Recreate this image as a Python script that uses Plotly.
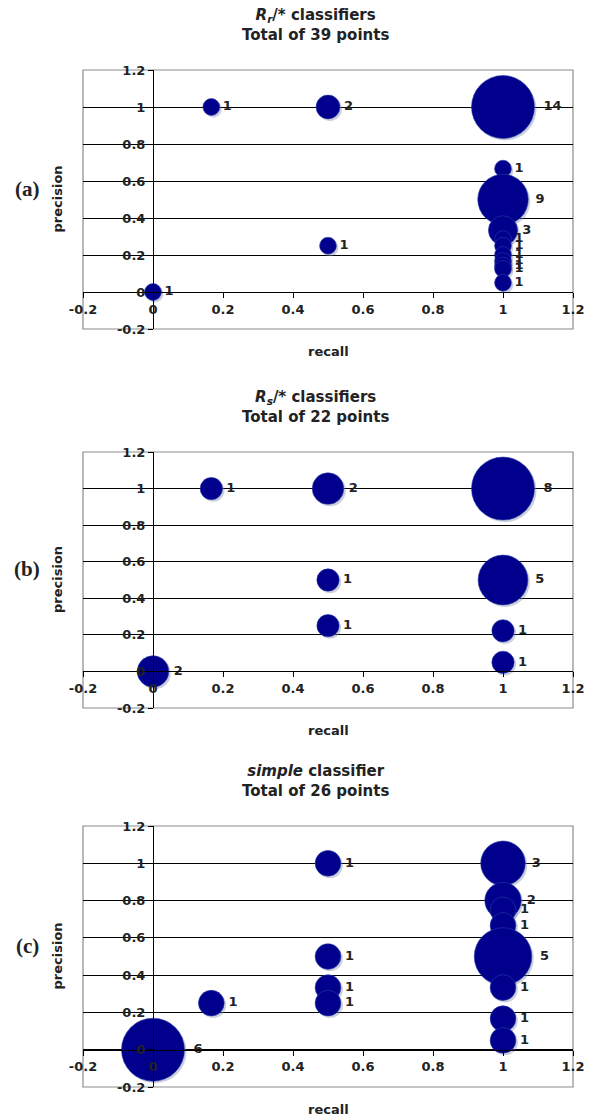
import math
import plotly.graph_objects as go

# ---------------- data ----------------
# panel (a): R_r/* classifiers, total 39 points
a_recall    = [0.0, 1/6, 0.5, 1.0, 1.0, 1.0, 1.0, 0.5, 1.0, 1.0, 1.0, 1.0, 1.0, 1.0, 1.0]
a_precision = [0.0, 1.0, 1.0, 1.0, 2/3, 0.5, 1/3, 0.25, 2/7, 0.25, 0.2, 1/6, 1/7, 0.125, 0.05]
a_count     = [1, 1, 2, 14, 1, 9, 3, 1, 1, 1, 1, 1, 1, 1, 1]

# panel (b): R_s/* classifiers, total 22 points
b_recall    = [0.0, 1/6, 0.5, 1.0, 0.5, 1.0, 0.5, 1.0, 1.0]
b_precision = [0.0, 1.0, 1.0, 1.0, 0.5, 0.5, 0.25, 2/9, 0.05]
b_count     = [2, 1, 2, 8, 1, 5, 1, 1, 1]

# panel (c): simple classifier, total 26 points
c_recall    = [0.0, 1/6, 0.5, 0.5, 0.5, 0.5, 1.0, 1.0, 1.0, 1.0, 1.0, 1.0, 1.0, 1.0]
c_precision = [0.0, 0.25, 1.0, 0.5, 1/3, 0.25, 1.0, 0.8, 0.75, 2/3, 0.5, 1/3, 1/6, 0.05]
c_count     = [6, 1, 1, 1, 1, 1, 3, 2, 1, 1, 5, 1, 1, 1]

tick_vals = [-0.2, 0.0, 0.2, 0.4, 0.6, 0.8, 1.0, 1.2]
tick_text = ["-0.2", "0", "0.2", "0.4", "0.6", "0.8", "1", "1.2"]

titles = [
    "<b><i>R</i><sub><i>r</i></sub>/* classifiers<br>Total of 39 points</b>",
    "<b><i>R</i><sub><i>s</i></sub>/* classifiers<br>Total of 22 points</b>",
    "<b><i>simple</i> classifier<br>Total of 26 points</b>",
]
panel_tags = ["(a)", "(b)", "(c)"]

# ---------------- layout constants ----------------
W, H = 595, 1119
LEFT_PX, RIGHT_PX = 83, 573
PANELS_PX = [(70, 329), (452, 708), (826, 1087)]  # top, bottom
MAX_D = 63.0  # diameter of largest bubble (px)
BUBBLE = "#00008C"
SHADOW = "rgba(120,135,165,0.55)"
TXT = "#222222"
FONT = "DejaVu Sans"
RMIN, RMAX = -0.2, 1.2

datasets = [
    (a_recall, a_precision, a_count),
    (b_recall, b_precision, b_count),
    (c_recall, c_precision, c_count),
]

fig = go.Figure()
xdom = [LEFT_PX / W, RIGHT_PX / W]
annotations = []
shapes = []

for i, ((xs, ys, cs), (top, bot)) in enumerate(zip(datasets, PANELS_PX)):
    k = "" if i == 0 else str(i + 1)
    xa, ya = "x" + k, "y" + k
    ydom = [1 - bot / H, 1 - top / H]
    frac0 = (0 - RMIN) / (RMAX - RMIN)
    xpos_of_yaxis = xdom[0] + frac0 * (xdom[1] - xdom[0])
    ypos_of_xaxis = ydom[0] + frac0 * (ydom[1] - ydom[0])

    maxc = max(cs)
    diam = [MAX_D * math.sqrt(c / maxc) for c in cs]
    # shadow offset (2 px right/down expressed in data units)
    dx = 2 * (RMAX - RMIN) / (RIGHT_PX - LEFT_PX)
    dy = 2 * (RMAX - RMIN) / (bot - top)

    fig.add_trace(go.Scatter(
        x=[v + dx for v in xs], y=[v - dy for v in ys], mode="markers",
        marker=dict(size=diam, color=SHADOW, line=dict(width=0)),
        xaxis=xa, yaxis=ya, hoverinfo="skip", showlegend=False,
    ))
    fig.add_trace(go.Scatter(
        x=xs, y=ys, mode="markers+text",
        text=[str(c) for c in cs], textposition="middle right",
        textfont=dict(family=FONT, size=13, color=TXT, weight="bold"),
        marker=dict(size=diam, color=BUBBLE, line=dict(width=0.6, color="#2a3aa8"), opacity=1),
        xaxis=xa, yaxis=ya, showlegend=False,
    ))

    axfont = dict(family=FONT, size=13, color=TXT, weight="bold")
    fig.layout["xaxis" + k] = dict(
        domain=xdom, range=[RMIN, RMAX], anchor="free", position=ypos_of_xaxis,
        tickvals=tick_vals, ticktext=tick_text, ticks="outside", ticklen=5,
        tickcolor="black", showline=True, linecolor="black", linewidth=1,
        showgrid=False, zeroline=False, tickfont=axfont, fixedrange=True,
        layer="above traces", automargin=False,
    )
    fig.layout["yaxis" + k] = dict(
        domain=ydom, range=[RMIN, RMAX], anchor="free", position=xpos_of_yaxis,
        tickvals=tick_vals, ticktext=tick_text, ticks="outside",
        ticklen=5, tickcolor="black", showline=True, linecolor="black",
        linewidth=1, showgrid=True, gridcolor="black", gridwidth=1,
        zeroline=False, tickfont=axfont, fixedrange=True, layer="above traces",
        automargin=False,
    )

    # plot-area border (grey)
    shapes.append(dict(type="rect", xref="paper", yref="paper",
                       x0=xdom[0], x1=xdom[1], y0=ydom[0], y1=ydom[1],
                       line=dict(color="#8c8c8c", width=1.2), layer="between"))

    # titles and labels
    annotations.append(dict(text=titles[i], x=315 / W, y=1 - (top - 45) / H,
                            xref="paper", yref="paper", showarrow=False,
                            xanchor="center", yanchor="middle",
                            font=dict(family=FONT, size=15, color=TXT)))
    annotations.append(dict(text="<b>recall</b>", x=(LEFT_PX + RIGHT_PX) / 2 / W,
                            y=1 - (bot + 22) / H, xref="paper", yref="paper",
                            showarrow=False, xanchor="center", yanchor="middle",
                            font=dict(family=FONT, size=13, color=TXT)))
    annotations.append(dict(text="<b>precision</b>", x=57 / W,
                            y=1 - ((top + bot) / 2) / H, xref="paper", yref="paper",
                            showarrow=False, textangle=-90, xanchor="center",
                            yanchor="middle",
                            font=dict(family=FONT, size=13, color=TXT)))
    annotations.append(dict(text="<b>" + panel_tags[i] + "</b>", x=27 / W,
                            y=1 - ((top + bot) / 2 - 11) / H, xref="paper",
                            yref="paper", showarrow=False, xanchor="center",
                            yanchor="middle",
                            font=dict(family="Liberation Serif", size=21, color=TXT)))

fig.update_layout(
    width=W, height=H, margin=dict(l=0, r=0, t=0, b=0, pad=0, autoexpand=False),
    paper_bgcolor="white", plot_bgcolor="white",
    annotations=annotations, shapes=shapes, showlegend=False,
)

fig.write_html(
    "out.html",
    config={"displayModeBar": False},
    post_script="document.body.style.margin='0';document.body.style.overflow='hidden';",
)
